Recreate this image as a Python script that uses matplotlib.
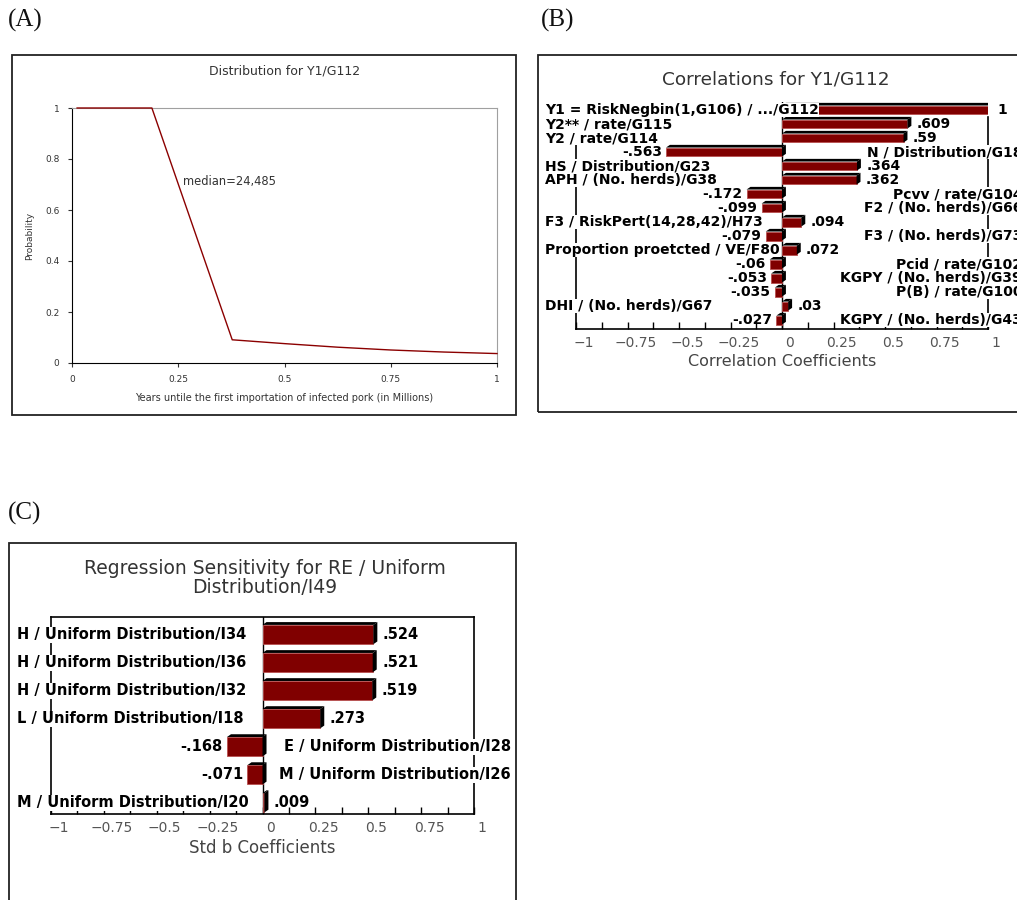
import matplotlib
matplotlib.use("Agg")
import matplotlib.pyplot as plt
import numpy as np
from matplotlib.patches import Rectangle, Polygon
from matplotlib.transforms import ScaledTranslation, blended_transform_factory

W, H = 1017, 900

# (A) cumulative descending distribution of Y1/G112
dist_x = [0.012, 0.188, 0.377, 0.5, 0.625, 0.75, 0.875, 1.0]
dist_p = [1.0, 1.0, 0.091, 0.076, 0.062, 0.051, 0.043, 0.037]
dist_xticks = [0, 0.25, 0.5, 0.75, 1]
dist_xticklabels = ["0", "0.25", "0.5", "0.75", "1"]
dist_yticks = [0, 0.2, 0.4, 0.6, 0.8, 1]
dist_yticklabels = ["0", "0.2", "0.4", "0.6", "0.8", "1"]

# (B) correlation tornado
corr_names = ["Y1 = RiskNegbin(1,G106) / .../G112", "Y2** / rate/G115", "Y2 / rate/G114",
              "N / Distribution/G18", "HS / Distribution/G23", "APH / (No. herds)/G38",
              "Pcvv / rate/G104", "F2 / (No. herds)/G66", "F3 / RiskPert(14,28,42)/H73",
              "F3 / (No. herds)/G73", "Proportion proetcted / VE/F80", "Pcid / rate/G102",
              "KGPY / (No. herds)/G39", "P(B) / rate/G100", "DHI / (No. herds)/G67",
              "KGPY / (No. herds)/G43"]
corr_vals = [1, .609, .59, -.563, .364, .362, -.172, -.099, .094, -.079, .072,
             -.06, -.053, -.035, .03, -.027]

# (C) regression tornado
reg_names = ["H / Uniform Distribution/I34", "H / Uniform Distribution/I36",
             "H / Uniform Distribution/I32", "L / Uniform Distribution/I18",
             "E / Uniform Distribution/I28", "M / Uniform Distribution/I26",
             "M / Uniform Distribution/I20"]
reg_vals = [.524, .521, .519, .273, -.168, -.071, .009]

coef_ticks = [-1, -0.75, -0.5, -0.25, 0, 0.25, 0.5, 0.75, 1]
coef_ticklabels = ["\u22121", "\u22120.75", "\u22120.5", "\u22120.25", "0", "0.25", "0.5", "0.75", "1"]

BAR = "#800000"


def box(l, t, r, b):
    return [l / W, 1 - b / H, (r - l) / W, (b - t) / H]


def fmt(v):
    s = ("%.3f" % v).rstrip("0").rstrip(".")
    return s.replace("0.", ".", 1)


fig = plt.figure(figsize=(W / 100, H / 100), dpi=100)

# panel frames and letters
for l, t, r, b in [(12, 55, 516, 415), (538, 55, 1030, 412), (9, 543, 516, 912)]:
    fig.add_artist(Rectangle((l / W, 1 - b / H), (r - l) / W, (b - t) / H,
                             transform=fig.transFigure, fill=False, ec="#222222", lw=1.3))
for txt, x, y in [("(A)", 8, 20), ("(B)", 541, 20), ("(C)", 8, 513)]:
    fig.text(x / W, 1 - y / H, txt, family="Liberation Serif", fontsize=18,
             va="center", ha="left", color="#111111")

# ---- (A)
axA = fig.add_axes(box(72, 108, 497, 363))
axA.plot(dist_x, dist_p, color="#8b0000", lw=1.0, zorder=5, clip_on=False)
axA.set_xlim(0, 1)
axA.set_ylim(0, 1)
axA.set_xticks(dist_xticks, dist_xticklabels)
axA.set_yticks(dist_yticks, dist_yticklabels)
axA.tick_params(labelsize=6.5, colors="#333333", length=3, width=0.8, pad=6)
axA.spines["top"].set_color("#a0a0a0")
axA.spines["right"].set_color("#a0a0a0")
axA.set_title("Distribution for Y1/G112", fontsize=9, color="#333333", pad=24)
axA.set_xlabel("Years untile the first importation of infected pork (in Millions)",
               fontsize=7, color="#333333", labelpad=6)
axA.set_ylabel("Probability", fontsize=6.5, color="#333333", labelpad=8)
axA.text(0.26, 0.7, "median=24,485", fontsize=8.3, color="#333333")


def tornado(ax, names, vals, h, dx, dy, lab_left, lab_right, fs, gap_pos, gap_neg):
    ys = np.arange(len(vals))
    lefts = np.minimum(vals, 0)
    ax.barh(ys, np.abs(vals), left=lefts, height=h, color=BAR, edgecolor="#b85050",
            lw=0.6, zorder=3)
    for y, v in zip(ys, vals):
        x0, x1 = min(0, v), max(0, v)
        top, bot = y - h / 2, y + h / 2
        ax.add_patch(Polygon([(x0, top), (x0 + dx, top - dy), (x1 + dx, top - dy), (x1, top)],
                             fc="black", ec="none", zorder=3))
        ax.add_patch(Polygon([(x1, top), (x1 + dx, top - dy), (x1 + dx, bot - dy), (x1, bot)],
                             fc="black", ec="none", zorder=3))
    tr = blended_transform_factory(fig.transFigure, ax.transData)
    for y, v, n in zip(ys, vals, names):
        if v >= 0:
            ax.text(lab_left / W, y, n, transform=tr, ha="left", va="center", fontsize=fs,
                    fontweight="bold", zorder=5,
                    bbox=dict(fc="white", ec="none", pad=0.3))
            ax.text(v + gap_pos, y, fmt(v), ha="left", va="center", fontsize=fs,
                    fontweight="bold", zorder=5)
        else:
            ax.text(lab_right / W, y, n, transform=tr, ha="right", va="center", fontsize=fs,
                    fontweight="bold", zorder=5, clip_on=False,
                    bbox=dict(fc="white", ec="none", pad=0.3))
            ax.text(v - gap_neg, y, fmt(v), ha="right", va="center", fontsize=fs,
                    fontweight="bold", zorder=5)
    ax.set_xlim(-1, 1)
    ax.set_xticks(coef_ticks, coef_ticklabels)
    ax.set_xticks(np.arange(-0.875, 1, 0.25), minor=True)
    ax.set_yticks([])
    ax.tick_params(axis="x", which="both", direction="in", length=5, width=1,
                   labelsize=10, labelcolor="#555555", pad=5)
    off = ScaledTranslation(0.08, 0, fig.dpi_scale_trans)
    for lab in ax.get_xticklabels():
        lab.set_transform(lab.get_transform() + off)
    ax.axvline(0, color="black", lw=1, zorder=2)
    for s in ax.spines.values():
        s.set_linewidth(1.2)


# ---- (B)
axB = fig.add_axes(box(576, 101.6, 988, 329))
tornado(axB, corr_names, corr_vals, 0.64, 0.019, 0.19, 545, 1022, 10, 0.045, 0.02)
axB.set_ylim(15.64, -0.6)
axB.spines["top"].set_visible(False)
axB.spines["left"].set_bounds(15.64, 0.5)
axB.spines["right"].set_bounds(15.64, 0.5)
axB.set_xlabel("Correlation Coefficients", fontsize=11.5, color="#444444", labelpad=3)
fig.text(776 / W, 1 - 80 / H, "Correlations for Y1/G112", fontsize=13.3, color="#333333",
         ha="center", va="center")

# ---- (C)
axC = fig.add_axes(box(51, 617, 474, 814))
tornado(axC, reg_names, reg_vals, 0.69, 0.019, 0.1, 17, 511, 10.5, 0.045, 0.02)
axC.set_ylim(6.4, -0.627)
axC.set_xlabel("Std b Coefficients", fontsize=12, color="#444444", labelpad=3)
fig.text(265 / W, 1 - 578 / H, "Regression Sensitivity for RE / Uniform\nDistribution/I49",
         fontsize=13.5, color="#333333", ha="center", va="center", linespacing=1.0)

fig.savefig("out.png", dpi=100)
